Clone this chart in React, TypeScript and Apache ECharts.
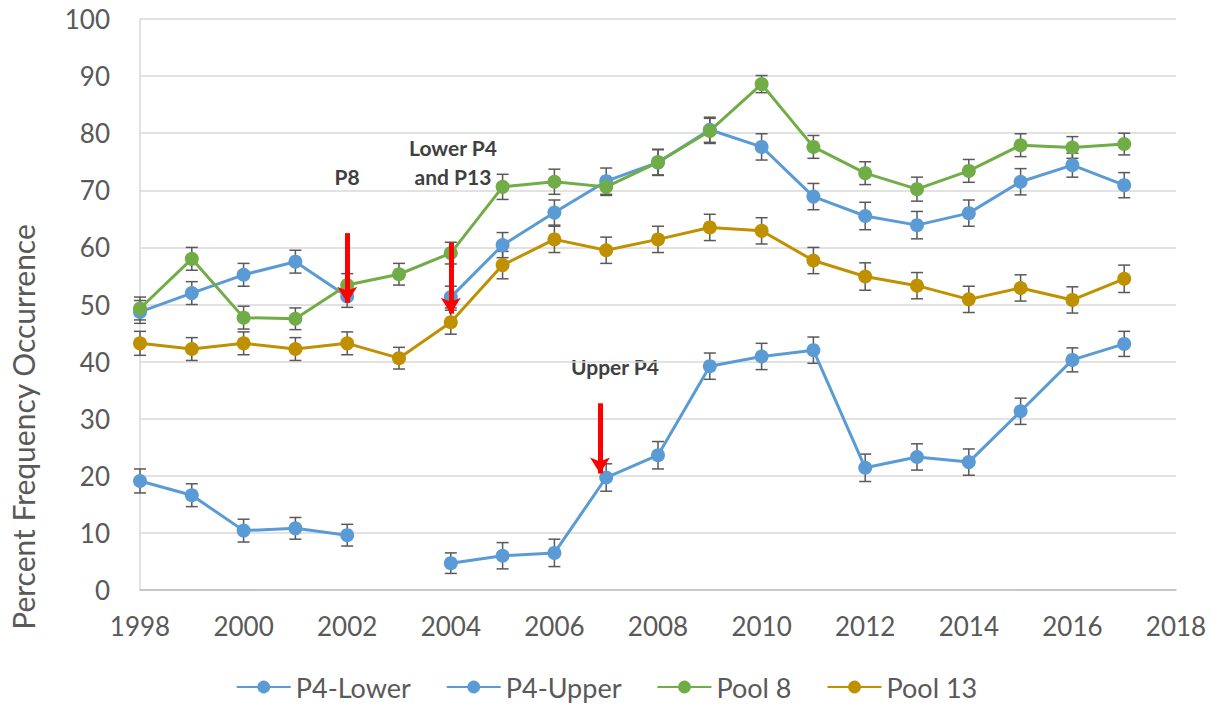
import React, { useEffect, useRef } from "react";
import * as echarts from "echarts";

const years = [1998, 1999, 2000, 2001, 2002, 2003, 2004, 2005, 2006, 2007, 2008, 2009, 2010, 2011, 2012, 2013, 2014, 2015, 2016, 2017];

const p4Lower: (number | null)[] = [48.7, 52.0, 55.2, 57.5, 51.4, null, 51.3, 60.4, 66.1, 71.6, 74.9, 80.6, 77.6, 68.9, 65.5, 63.9, 66.0, 71.5, 74.4, 70.9];
const p4LowerErr: (number | null)[] = [2.0, 2.0, 2.0, 2.0, 1.9, null, 1.9, 2.2, 2.2, 2.3, 2.3, 2.2, 2.3, 2.3, 2.4, 2.4, 2.3, 2.3, 2.1, 2.2];

const p4Upper: (number | null)[] = [19.1, 16.6, 10.4, 10.8, 9.6, null, 4.7, 6.0, 6.5, 19.7, 23.6, 39.2, 40.9, 42.0, 21.4, 23.3, 22.4, 31.3, 40.3, 43.1];
const p4UpperErr: (number | null)[] = [2.1, 2.0, 2.0, 1.9, 1.9, null, 1.8, 2.3, 2.4, 2.4, 2.4, 2.3, 2.3, 2.3, 2.4, 2.3, 2.3, 2.3, 2.1, 2.2];

const pool8: number[] = [49.3, 58.0, 47.7, 47.5, 53.4, 55.3, 59.0, 70.6, 71.5, 70.6, 74.9, 80.4, 88.6, 77.6, 73.0, 70.2, 73.4, 77.9, 77.5, 78.1];
const pool8Err: number[] = [2.0, 2.0, 2.0, 1.9, 2.0, 1.9, 1.9, 2.2, 2.2, 1.5, 2.2, 2.2, 1.5, 2.0, 2.0, 2.1, 2.0, 2.0, 1.9, 1.9];

const pool13: number[] = [43.2, 42.2, 43.2, 42.2, 43.2, 40.6, 46.9, 56.9, 61.4, 59.5, 61.4, 63.5, 62.9, 57.7, 54.9, 53.3, 50.9, 52.9, 50.8, 54.5];
const pool13Err: number[] = [2.1, 2.0, 2.0, 2.0, 2.0, 1.9, 2.1, 2.4, 2.3, 2.3, 2.3, 2.3, 2.3, 2.3, 2.4, 2.3, 2.3, 2.3, 2.3, 2.4];

const seriesNames = ["P4-Lower", "P4-Upper", "Pool 8", "Pool 13"];
const seriesColors = ["#5B9BD5", "#5B9BD5", "#70AD47", "#BF9000"];

// annotation arrows: [x, yTop, yTip]
const arrows: [number, number, number][] = [
  [2002, 62.5, 50.3],
  [2004, 60.8, 48.4],
  [2006.88, 32.7, 20.4],
];

const FONT = "Lato, 'Open Sans', sans-serif";

function pairs(vals: (number | null)[]) {
  return years.map((y, i) => [y, vals[i] == null ? "-" : vals[i]]);
}

function errData(vals: (number | null)[], errs: (number | null)[]) {
  const out: any[] = [];
  years.forEach((y, i) => {
    const v = vals[i];
    const e = errs[i];
    if (v != null && e != null) out.push([y, v - e, v + e]);
  });
  return out;
}

function errorSeries(vals: (number | null)[], errs: (number | null)[]) {
  return {
    type: "custom",
    silent: true,
    z: 1,
    data: errData(vals, errs),
    encode: { x: 0, y: [1, 2] },
    renderItem: (params: any, api: any) => {
      const x = api.value(0);
      const lo = api.coord([x, api.value(1)]);
      const hi = api.coord([x, api.value(2)]);
      const hw = 6;
      const style = { stroke: "#595959", lineWidth: 1.5 };
      return {
        type: "group",
        children: [
          { type: "line", shape: { x1: lo[0], y1: lo[1], x2: hi[0], y2: hi[1] }, style },
          { type: "line", shape: { x1: lo[0] - hw, y1: lo[1], x2: lo[0] + hw, y2: lo[1] }, style },
          { type: "line", shape: { x1: hi[0] - hw, y1: hi[1], x2: hi[0] + hw, y2: hi[1] }, style },
        ],
      };
    },
  };
}

export default function App() {
  const ref = useRef<HTMLDivElement>(null);
  useEffect(() => {
    if (!ref.current) return;
    const chart = echarts.init(ref.current, null, { renderer: "svg" });
    const lineData = [p4Lower, p4Upper, pool8, pool13];
    const errs = [p4LowerErr, p4UpperErr, pool8Err, pool13Err];
    const lineSeries = lineData.map((d, i) => ({
      name: seriesNames[i],
      type: "line",
      data: pairs(d),
      z: 3,
      connectNulls: false,
      symbol: "circle",
      symbolSize: 14,
      itemStyle: { color: seriesColors[i] },
      lineStyle: { color: seriesColors[i], width: 3 },
      markLine:
        i === 2
          ? {
              silent: true,
              symbol: ["none", "arrow"],
              symbolSize: [15, 16],
              label: { show: false },
              lineStyle: { color: "#FF0000", width: 5, type: "solid" },
              z: 5,
              data: arrows.map((a) => [
                { coord: [a[0], a[1]], symbol: "none" },
                { coord: [a[0], a[2]], symbol: "arrow" },
              ]),
            }
          : undefined,
    }));
    const errSeries = lineData.map((d, i) => errorSeries(d, errs[i]));

    chart.setOption({
      animation: false,
      backgroundColor: "#ffffff",
      textStyle: { fontFamily: FONT },
      grid: { left: 140, right: 37, top: 19, bottom: 115, containLabel: false },
      xAxis: {
        type: "value",
        min: 1998,
        max: 2018,
        interval: 2,
        axisLine: { show: true, lineStyle: { color: "#BFBFBF", width: 1.5 } },
        axisTick: { show: false },
        splitLine: { show: false },
        axisLabel: {
          color: "#595959",
          fontSize: 26,
          fontFamily: FONT,
          margin: 23,
          formatter: (v: number) => String(v),
        },
      },
      yAxis: {
        type: "value",
        min: 0,
        max: 100,
        interval: 10,
        axisLine: { show: true, lineStyle: { color: "#D9D9D9", width: 1.5 } },
        axisTick: { show: false },
        splitLine: { show: true, lineStyle: { color: "#D9D9D9", width: 1.5 } },
        axisLabel: { color: "#595959", fontSize: 26, fontFamily: FONT, margin: 30 },
      },
      legend: {
        data: seriesNames,
        top: 672,
        left: "center",
        padding: 0,
        itemWidth: 54,
        itemHeight: 16,
        itemGap: 35,
        textStyle: { color: "#595959", fontSize: 27, fontFamily: FONT, lineHeight: 30 },
      },
      graphic: [
        {
          type: "text",
          x: 23,
          y: 427,
          rotation: Math.PI / 2,
          style: {
            text: "Percent Frequency Occurrence",
            fill: "#595959",
            font: `30px ${FONT}`,
            align: "center",
            verticalAlign: "middle",
          },
        },
        {
          type: "text",
          x: 347,
          y: 176,
          style: { text: "P8", fill: "#404040", font: `bold 21px ${FONT}`, align: "center", verticalAlign: "middle" },
        },
        {
          type: "text",
          x: 453,
          y: 147,
          style: { text: "Lower P4", fill: "#404040", font: `bold 21px ${FONT}`, align: "center", verticalAlign: "middle" },
        },
        {
          type: "text",
          x: 453,
          y: 176,
          style: { text: "and P13", fill: "#404040", font: `bold 21px ${FONT}`, align: "center", verticalAlign: "middle" },
        },
        {
          type: "text",
          x: 615,
          y: 366,
          style: { text: "Upper P4", fill: "#404040", font: `bold 21px ${FONT}`, align: "center", verticalAlign: "middle" },
        },
      ],
      series: [...errSeries, ...lineSeries],
    });
    return () => chart.dispose();
  }, []);
  return (
    <div
      ref={ref}
      style={{ position: "fixed", left: 0, top: 0, width: 1213, height: 705, background: "#fff" }}
    />
  );
}
